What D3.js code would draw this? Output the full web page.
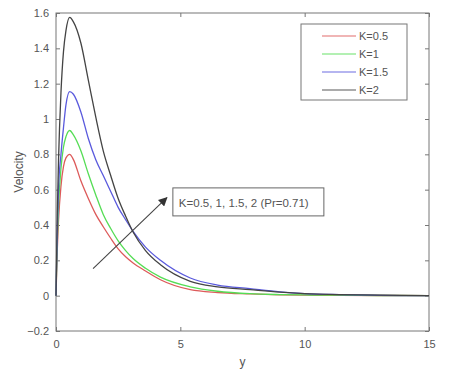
<!DOCTYPE html>
<html>
<head>
<meta charset="utf-8">
<script src="https://cdn.jsdelivr.net/npm/d3@7"></script>
<style>
  body { margin: 0; background: #fff; }
  text { font-family: "Liberation Sans", Arial, sans-serif; fill: #555; }
</style>
</head>
<body>
<svg width="455" height="380"></svg>
<script>
// values
var yPos = [0, 0.05, 0.1, 0.2, 0.3, 0.4, 0.55, 0.7, 1.0, 1.3, 1.6, 1.9, 2.2, 2.5, 2.8, 3.1, 3.6, 4.2, 5.4, 6.5, 7.8, 9, 10, 11.4, 13, 15];

var velK05 = [0, 0.25, 0.42, 0.62, 0.73, 0.78, 0.80, 0.77, 0.65, 0.55, 0.46, 0.39, 0.325, 0.265, 0.22, 0.185, 0.14, 0.09, 0.034, 0.018, 0.01, 0.005, 0.003, 0.002, 0.001, 0];
var velK1  = [0, 0.30, 0.50, 0.72, 0.84, 0.90, 0.935, 0.91, 0.82, 0.69, 0.57, 0.46, 0.38, 0.31, 0.255, 0.21, 0.155, 0.105, 0.05, 0.025, 0.011, 0.006, 0.004, 0.003, 0.001, 0];
var velK15 = [0, 0.35, 0.60, 0.80, 0.95, 1.08, 1.155, 1.14, 1.04, 0.89, 0.77, 0.68, 0.59, 0.50, 0.43, 0.364, 0.275, 0.20, 0.10, 0.06, 0.04, 0.022, 0.012, 0.006, 0.002, 0];
var velK2  = [0, 0.45, 0.76, 1.15, 1.38, 1.50, 1.575, 1.55, 1.43, 1.22, 1.01, 0.82, 0.68, 0.55, 0.45, 0.36, 0.255, 0.175, 0.081, 0.05, 0.034, 0.02, 0.012, 0.006, 0.003, 0];

var seriesNames = ["K=0.5", "K=1", "K=1.5", "K=2"];
var seriesColors = ["#dd5a5a", "#55dd55", "#5a5add", "#444444"];
var seriesValues = [velK05, velK1, velK15, velK2];

var xTicks = [0, 5, 10, 15];
var yTicks = [-0.2, 0, 0.2, 0.4, 0.6, 0.8, 1, 1.2, 1.4, 1.6];

var annotText = "K=0.5, 1, 1.5, 2 (Pr=0.71)";

var margin = { top: 13, right: 26, bottom: 49, left: 56 };
var width = 455 - margin.left - margin.right;
var height = 380 - margin.top - margin.bottom;

var svg = d3.select("svg");

var defs = svg.append("defs");
defs.append("marker")
  .attr("id", "head")
  .attr("viewBox", "0 0 10 10")
  .attr("refX", 9)
  .attr("refY", 5)
  .attr("markerWidth", 9)
  .attr("markerHeight", 9)
  .attr("markerUnits", "userSpaceOnUse")
  .attr("orient", "auto")
  .append("path")
  .attr("d", "M0,0 L10,5 L0,10 Z")
  .attr("fill", "#333");

var g = svg.append("g")
  .attr("transform", "translate(" + margin.left + "," + margin.top + ")");

var x = d3.scaleLinear().domain([0, 15]).range([0, width]);
var y = d3.scaleLinear().domain([-0.2, 1.6]).range([height, 0]);

// axes, MATLAB-like box with inward ticks
function styleAxis(sel) {
  sel.select(".domain").remove();
  sel.selectAll("line").attr("stroke", "#777");
  sel.selectAll("text").style("font-size", "11px").attr("fill", "#555");
}

g.append("g")
  .attr("transform", "translate(0," + height + ")")
  .call(d3.axisBottom(x).tickValues(xTicks).tickSize(-4).tickPadding(9).tickFormat(d3.format("d")))
  .call(styleAxis);

g.append("g")
  .call(d3.axisTop(x).tickValues(xTicks).tickSize(-4).tickFormat(""))
  .call(styleAxis);

g.append("g")
  .call(d3.axisLeft(y).tickValues(yTicks).tickSize(-4).tickPadding(7).tickFormat(function (d) { return d3.format("")(+d.toFixed(1)); }))
  .call(styleAxis);

g.append("g")
  .attr("transform", "translate(" + width + ",0)")
  .call(d3.axisRight(y).tickValues(yTicks).tickSize(-4).tickFormat(""))
  .call(styleAxis);

g.append("rect")
  .attr("width", width)
  .attr("height", height)
  .attr("fill", "none")
  .attr("stroke", "#777")
  .attr("stroke-width", 1);

// curves
var line = d3.line()
  .x(function (d) { return x(d[0]); })
  .y(function (d) { return y(d[1]); })
  .curve(d3.curveMonotoneX);

seriesValues.forEach(function (vals, i) {
  var pts = yPos.map(function (p, j) { return [p, vals[j]]; });
  g.append("path")
    .datum(pts)
    .attr("fill", "none")
    .attr("stroke", seriesColors[i])
    .attr("stroke-width", 1.3)
    .attr("d", line);
});

// arrow + annotation
g.append("line")
  .attr("x1", x(1.49)).attr("y1", y(0.153))
  .attr("x2", x(4.46)).attr("y2", y(0.555))
  .attr("stroke", "#444")
  .attr("stroke-width", 1.1)
  .attr("marker-end", "url(#head)");

var ax = x(4.7), ay = y(0.61);
g.append("rect")
  .attr("x", ax).attr("y", ay)
  .attr("width", 151).attr("height", 28)
  .attr("fill", "#fff")
  .attr("stroke", "#666");
g.append("text")
  .attr("x", ax + 6).attr("y", ay + 19)
  .style("font-size", "11.5px")
  .attr("fill", "#333")
  .text(annotText);

// legend
var lg = g.append("g").attr("transform", "translate(" + (301 - margin.left) + "," + (24 - margin.top) + ")");
lg.append("rect")
  .attr("width", 106).attr("height", 76)
  .attr("fill", "#fff")
  .attr("stroke", "#777");
seriesNames.forEach(function (name, i) {
  var yy = 12 + i * 18;
  lg.append("line")
    .attr("x1", 21).attr("x2", 55)
    .attr("y1", yy).attr("y2", yy)
    .attr("stroke", seriesColors[i])
    .attr("stroke-opacity", 0.6)
    .attr("stroke-width", 1.6);
  lg.append("text")
    .attr("x", 58).attr("y", yy + 4)
    .style("font-size", "11px")
    .attr("fill", "#444")
    .text(name);
});

// axis titles
svg.append("text")
  .attr("transform", "translate(23," + (margin.top + height / 2) + ") rotate(-90)")
  .attr("text-anchor", "middle")
  .style("font-size", "12px")
  .text("Velocity");

svg.append("text")
  .attr("x", margin.left + width / 2)
  .attr("y", 366)
  .attr("text-anchor", "middle")
  .style("font-size", "12px")
  .text("y");
</script>
</body>
</html>
